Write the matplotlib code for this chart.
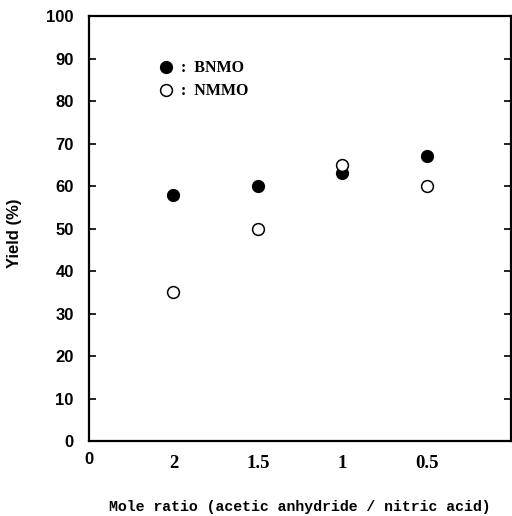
import matplotlib
matplotlib.use("Agg")
import matplotlib.pyplot as plt

# data
ratio_labels = ["2", "1.5", "1", "0.5"]
bnmo_yield = [58, 60, 63, 67]
nmmo_yield = [35, 50, 65, 60]
y_ticks = [0, 10, 20, 30, 40, 50, 60, 70, 80, 90, 100]

pos = list(range(1, len(ratio_labels) + 1))

fig = plt.figure(figsize=(5.12, 5.16), dpi=100)
ax = fig.add_axes([0.174, 0.145, 0.824, 0.824])

ax.plot(pos, bnmo_yield, "o", color="black", markersize=8.5, label=":  BNMO")
ax.plot(pos, nmmo_yield, "o", markerfacecolor="white", markeredgecolor="black",
        markeredgewidth=1.1, markersize=8.5, label=":  NMMO")

ax.set_xlim(0, 5)
ax.set_ylim(0, 100)
ax.set_yticks(y_ticks)
ax.set_yticklabels([str(v) for v in y_ticks], fontfamily="Liberation Sans",
                   fontweight="bold", fontsize=12)
ax.set_xticks(pos)
ax.set_xticklabels(ratio_labels, fontfamily="Liberation Serif",
                   fontweight="bold", fontsize=13.5)
ax.tick_params(axis="x", length=0, pad=10)
ax.tick_params(axis="y", direction="in", left=True, right=True, length=5,
               width=1.2, pad=11)
ax.text(0, -0.025, "0", transform=ax.get_xaxis_transform(), ha="center",
        va="top", fontfamily="Liberation Sans", fontweight="bold", fontsize=12)

for s in ax.spines.values():
    s.set_linewidth(1.6)

ax.set_ylabel("Yield (%)", fontfamily="Liberation Sans", fontweight="bold",
              fontsize=12)
ax.yaxis.set_label_coords(-0.16, 0.49)
ax.set_xlabel("Mole ratio (acetic anhydride / nitric acid)",
              fontfamily="Liberation Mono", fontweight="bold", fontsize=10.7)
ax.xaxis.set_label_coords(0.5, -0.138)

leg = ax.legend(loc="upper left", bbox_to_anchor=(0.13, 0.93), frameon=False,
                handlelength=1.0, handletextpad=0.45, labelspacing=0.45,
                prop={"family": "Liberation Serif", "weight": "bold", "size": 11.5})

fig.savefig("out.png", dpi=100)
